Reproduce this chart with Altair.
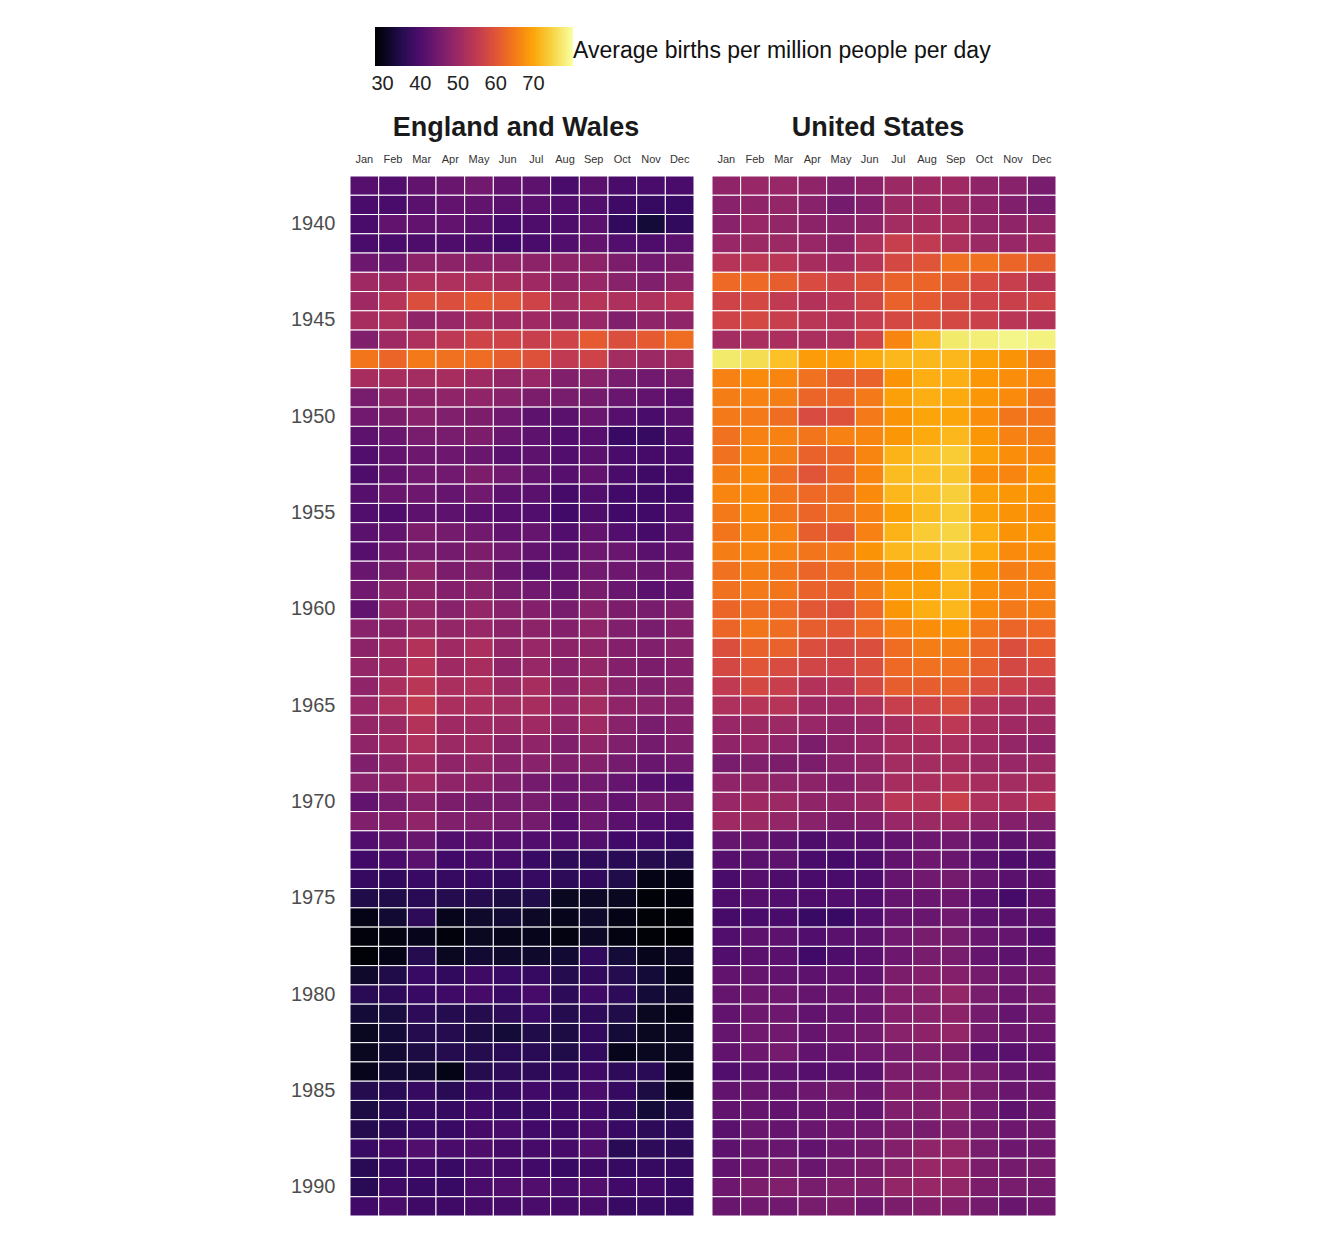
import altair as alt
import pandas as pd

months = ["Jan", "Feb", "Mar", "Apr", "May", "Jun", "Jul", "Aug", "Sep", "Oct", "Nov", "Dec"]
years = list(range(1938, 1992))
year_ticks = [1940, 1945, 1950, 1955, 1960, 1965, 1970, 1975, 1980, 1985, 1990]
legend_ticks = [30, 40, 50, 60, 70]

england = [
    "41 40.5 42.5 43.5 44.5 42.5 42 39.5 41.5 39.5 39.5 39.5",
    "39.5 39.5 41.5 42.5 42.5 41.5 41.5 40.5 40.5 38 37 37.5",
    "39.5 42.5 42.5 42.5 41.5 39.5 40 40 41.5 36.5 33 36.5",
    "39.5 39.5 40 40 40 38.5 39.5 40.5 42.5 40.5 40 41.5",
    "44 44 48 48 48 48.5 48 48 48 46 44.5 46",
    "50.5 50.5 52.5 52.5 52.5 51.5 50.5 48.5 49.5 47.5 46.5 48.5",
    "50.5 53.5 59 59 61 60 57 51 53.5 52.5 52.5 54.5",
    "51.5 52.5 48.5 49.5 51.5 50.5 50.5 48.5 49.5 46.5 48.5 48.5",
    "46.5 50.5 52.5 54.5 57 57 56 57 61 59 61 63.5",
    "64.5 62.5 65 64 63.5 61.5 59.5 55 57 51 50 51",
    "51.5 51.5 51 51.5 50.5 49 49.5 46.5 47.5 45.5 44.5 45.5",
    "45.5 48.5 48 48.5 48.5 47.5 46 45.5 45 43.5 42.5 41.5",
    "44.5 46 47.5 46.5 46 44.5 42 41.5 43.5 41 39.5 41.5",
    "42 43.5 45.5 45.5 46 43.5 42 40.5 41 37.5 37 40",
    "40.5 42.5 44 44 43.5 41.5 42 40.5 41.5 39.5 39 39.5",
    "40 42.5 44.5 44.5 46 44.5 42.5 41 42.5 39.5 38 39",
    "41 43.5 44 43 44.5 42 41.5 39 40.5 38.5 38 38",
    "40.5 40 42 42 41.5 41 40.5 38.5 40 38.5 38.5 40.5",
    "41.5 42.5 46 45 44.5 42.5 43 40.5 42.5 40.5 39 41.5",
    "41 44 45.5 45 46 44.5 42.5 41.5 44 43.5 41.5 42.5",
    "43.5 45.5 48.5 46 46.5 43.5 41.5 42.5 44.5 44 43.5 44.5",
    "44.5 47.5 48 47 47.5 45.5 44.5 43 45.5 43.5 41.5 42.5",
    "42.5 48.5 49 47.5 49 47.5 47 45.5 47.5 46 45.5 46.5",
    "47.5 48 50 49 49.5 48 48 47 48.5 46.5 45.5 47",
    "48 50.5 53 50.5 52 49 49.5 48 48.5 47 46.5 47.5",
    "49 50.5 53.5 50.5 51.5 48.5 49.5 47.5 49 47 46 47",
    "48.5 52 54 52 52.5 50 51.5 48.5 50 47.5 46.5 47.5",
    "49.5 52.5 55 52 52 51 51.5 49.5 51 48.5 47.5 47.5",
    "49 50 53 50.5 50.5 50 50.5 48.5 50.5 47.5 45.5 47",
    "48.5 50.5 52.5 50 50.5 48 48.5 46.5 48.5 46.5 45 46.5",
    "46.5 48.5 50.5 48.5 49 47.5 47.5 46.5 47 45 43.5 44.5",
    "47.5 48.5 50.5 48.5 48 46.5 45 44 44.5 43 41 40.5",
    "42.5 45.5 47.5 46 45.5 45.5 45.5 43.5 44.5 42.5 45 45",
    "46.5 47 48.5 46.5 46.5 45.5 45 41 44 41.5 40.5 40",
    "40.5 42 43.5 40.5 41.5 41 40.5 40 40.5 38.5 38 37.5",
    "38.5 39.5 41.5 38.5 39.5 39 37.5 36 36 35.5 35 35",
    "37 36.5 37.5 37 37.5 36.5 37 36 36.5 34.5 30 30",
    "34.5 34.5 35.5 35 35 34 34.5 31 31.5 31 28.5 29",
    "30 32.5 36 30.5 32 32.5 31.5 30.5 32 30 28.5 28.5",
    "29 29.5 30.5 29 31 30.5 30.5 29.5 31.5 29.5 28.5 28",
    "28.5 30 35 31 32.5 32 32 32.5 36.5 33 30.5 31.5",
    "32 34.5 37.5 36.5 38 37.5 37 35 36.5 35 33 30.5",
    "35.5 36 37.5 38 39 37.5 39 36 38 36 33 32",
    "33 33.5 36 35 35 36 37.5 35 36 34.5 31 30",
    "31 33 35 35 34 33 34.5 34 36.5 33 31 31",
    "31 32.5 34 35 35 35.5 35.5 34.5 36.5 30.5 31 31",
    "30.5 32.5 32.5 30 35 36 36 36.5 38 36 35.5 30.5",
    "35 35.5 37 35.5 37.5 37 38.5 37.5 39.5 37 34 30.5",
    "34 35.5 37 37 38.5 37.5 37.5 38 38.5 36 33 34.5",
    "35 36 37.5 37.5 39 39.5 38.5 38 39.5 37.5 36 36",
    "37.5 39 40.5 39.5 40 39 39 39 40.5 35.5 36 36",
    "35.5 37.5 38.5 37.5 39.5 39 38.5 37.5 38 37 37 37",
    "35.5 38 37.5 37.5 39.5 40.5 40.5 39.5 40.5 38.5 38.5 37.5",
    "38.5 39.5 38 38 39 39 39.5 39 39.5 37.5 37.5 37.5",
]

united_states = [
    "48.5 49.5 49.5 48.5 46.5 48 50 50.5 50.5 48.5 47.5 45.5",
    "47.5 48.5 49 47.5 45 47 50 50.5 50 48.5 46.5 45.5",
    "47.5 49.5 49 48 47.5 48.5 51 51.5 51.5 49 48.5 49",
    "49.5 50 50 49.5 48 52.5 56 55 52.5 50 49.5 50.5",
    "53.5 54.5 54 51.5 50.5 53.5 58 60 64 64 62.5 61.5",
    "63 63 61.5 58.5 57 59.5 62 62.5 61.5 58.5 56 53.5",
    "57 58 55 53 54 57.5 62 61 59 57 56.5 57",
    "57 58 56 54 53 55.5 58 59 58 56.5 54 53",
    "51 52 52 52 52.5 57 66.5 72 77.5 78 79 78.5",
    "77.5 76 73 69 69 70.5 72 72 72 69.5 68 65.5",
    "66 67 66.5 64 61.5 62 68 71 71 68.5 67.5 66.5",
    "65.5 66 65.5 62.5 62.5 65 69.5 71 70.5 68.5 67 64.5",
    "65 65 63.5 58.5 59.5 65 68 70 70 67.5 64.5 64.5",
    "64 66 66 64.5 66 66.5 68.5 70.5 72 68.5 66 65.5",
    "64 66.5 65.5 62 62.5 66.5 71.5 73 74 69.5 67.5 66.5",
    "65.5 67 63.5 60 62.5 66.5 72.5 73 73.5 67.5 66.5 68.5",
    "66.5 67 64.5 63 63.5 67 72 73 74.5 69.5 68.5 68",
    "65 67 64.5 62.5 64 66 69.5 72.5 74 69.5 68 67.5",
    "64.5 66.5 66 61.5 60.5 66 71.5 74 75 71 68 68.5",
    "65.5 66.5 66 64.5 65 68 72 73 74.5 70.5 67 67.5",
    "64 65.5 64.5 62.5 63.5 65.5 67.5 68.5 73 68 65.5 66",
    "64 65 64.5 62 61.5 65.5 69 69.5 71.5 67.5 66 66",
    "62.5 63.5 63 60.5 59.5 63 68.5 71 72 67 65 65.5",
    "62.5 64.5 63.5 61.5 60.5 63 66 67.5 68.5 64.5 62.5 63",
    "59 62 62 59 58 59 63.5 65.5 65.5 62.5 59 61",
    "58 60 58.5 57.5 57 59 63 64 64 61.5 58 58.5",
    "55 58 56 53 53.5 58 61.5 61.5 62 59 56.5 55",
    "52.5 53.5 53.5 50.5 50.5 52.5 56 57 59 53.5 52 52",
    "49.5 50 50 49.5 48.5 49.5 51.5 53.5 54.5 51.5 50.5 50.5",
    "48.5 49.5 48.5 46 48 49.5 51.5 51.5 52 50.5 49 48.5",
    "45.5 46.5 46 46 47.5 49 51 51 51.5 50 49.5 50",
    "48.5 49 48.5 48 47 49 51.5 52 53 51.5 51 51.5",
    "49.5 50.5 50 48.5 48.5 50 54 53.5 56.5 52.5 52 53.5",
    "50.5 50 49 47.5 46 47 49.5 50 50.5 48.5 47 46.5",
    "43 43 42 40 41 41 42.5 44 44.5 42.5 42 43",
    "41 41.5 42 39.5 39 40 42.5 44 43.5 41.5 40 40.5",
    "39.5 41 40 39.5 39.5 40 43 44.5 45 43 41.5 41.5",
    "40 41 40.5 40 40.5 40.5 43 43.5 44 41.5 39 41.5",
    "39 39.5 39.5 37.5 37.5 40.5 43 43.5 44.5 42 41.5 42",
    "40.5 42 42 40.5 41.5 42 44.5 45.5 45.5 43.5 43 41",
    "40.5 41.5 41.5 38.5 40 41.5 44 45.5 45.5 43 42 42.5",
    "42.5 43 42.5 42 42.5 42.5 46 47 47 45 44 44.5",
    "43 44 44 43 43.5 44 47 47.5 49 45.5 44 45",
    "42.5 44 44 42.5 43 44 47 47.5 48 45 43 44.5",
    "43 44.5 44.5 43 44 45 47.5 48 49 45 44 44",
    "42.5 44 45 42.5 43 44.5 45.5 46.5 46 42 41.5 42.5",
    "40.5 42 42 41 41.5 42 46 46.5 47 45.5 43 43",
    "42.5 43.5 43 44 45 44 47 47 48 45.5 43.5 44",
    "42.5 43 42.5 43 43.5 43 46.5 46.5 47.5 44.5 42 43.5",
    "41.5 43.5 43 43.5 44 44.5 46 45.5 46.5 45 44 44.5",
    "42 43.5 43.5 42.5 44 45 47 48.5 49 45.5 44 44.5",
    "42.5 44 45 43.5 45 46 47.5 49.5 49.5 46 45 45.5",
    "44 46 46.5 45.5 46.5 46.5 49 49.5 49 46 45.5 45",
    "43.5 44.5 44.5 45.5 46 44.5 46 47 47 45 43.5 44.5",
]

rows = []
for country, table in [("England and Wales", england), ("United States", united_states)]:
    for yr, line in zip(years, table):
        for m, v in zip(months, line.split()):
            rows.append({"country": country, "year": yr, "month": m, "value": float(v)})
df = pd.DataFrame(rows)

FONT = "Liberation Sans"

color = alt.Color(
    "value:Q",
    scale=alt.Scale(scheme="inferno", domain=[28, 80.5]),
    legend=alt.Legend(
        title="Average births per million people per day",
        direction="horizontal",
        orient="none",
        legendX=25,
        legendY=-149,
        gradientLength=198,
        gradientThickness=39,
        values=legend_ticks,
        labelFontSize=20,
        labelFont=FONT,
        labelColor="#222222",
        labelOffset=8,
        titleOrient="right",
        titleAnchor="middle",
        titleBaseline="line-top",
        titleLineHeight=9,
        titleFontSize=23,
        titleFontWeight="normal",
        titleFont=FONT,
        titleColor="#111111",
        titleLimit=700,
        titlePadding=0,
        padding=0,
    ),
)

x_enc = alt.X(
    "month:N",
    sort=months,
    scale=alt.Scale(paddingInner=0, paddingOuter=0),
    axis=alt.Axis(orient="top", title=None, labelAngle=0, ticks=False, domain=False,
                  labelFontSize=11, labelFont=FONT, labelColor="#333333", labelPadding=12),
)


def panel(country, show_y):
    y_axis = alt.Axis(values=year_ticks, title=None, ticks=False, domain=False,
                      labelFontSize=20, labelFont=FONT, labelColor="#4d4d4d", labelPadding=15) if show_y else None
    return (
        alt.Chart(df)
        .transform_filter(alt.datum.country == country)
        .mark_rect(stroke="white", strokeWidth=1)
        .encode(
            x=x_enc,
            y=alt.Y("year:O", sort="ascending", scale=alt.Scale(paddingInner=0, paddingOuter=0), axis=y_axis),
            color=color,
        )
        .properties(
            width=344,
            height=1040,
            title=alt.TitleParams(country, fontSize=27, font=FONT, fontWeight="bold", color="#1a1a1a",
                                  offset=11, dx=-6),
        )
    )


chart = (
    alt.hconcat(panel("England and Wales", True), panel("United States", False), spacing=16)
    .properties(padding={"left": 282, "top": 19, "right": 10, "bottom": 10})
    .configure_view(stroke=None)
)

chart.save("out.html", embed_options={"renderer": "svg", "actions": False})
